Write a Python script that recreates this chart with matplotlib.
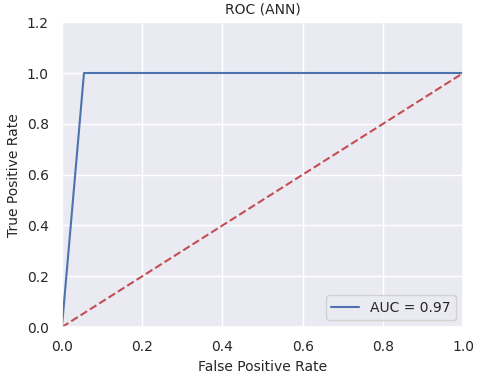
import matplotlib
matplotlib.use("Agg")
import matplotlib.pyplot as plt
import seaborn as sns

sns.set_theme(style="darkgrid")

# ROC curve points
fpr = [0.0, 0.055, 1.0]
tpr = [0.0, 1.0, 1.0]
auc_label = "AUC = 0.97"

diag_x = [0, 1]
diag_y = [0, 1]

fig = plt.figure(figsize=(4.8, 3.76), dpi=100)
ax = fig.add_axes([0.129, 0.13, 0.836, 0.811])

ax.plot(fpr, tpr, color="#4c72b0", linewidth=1.5, label=auc_label)
ax.plot(diag_x, diag_y, linestyle="--", color="#c44e52", linewidth=1.5)

ax.set_xlim(0, 1)
ax.set_ylim(0, 1.2)
ax.set_title("ROC (ANN)", fontsize=10)
ax.set_xlabel("False Positive Rate", fontsize=10)
ax.set_ylabel("True Positive Rate", fontsize=10)
ax.tick_params(labelsize=10)
ax.legend(loc="lower right", fontsize=10)

fig.savefig("out.png", dpi=100)
